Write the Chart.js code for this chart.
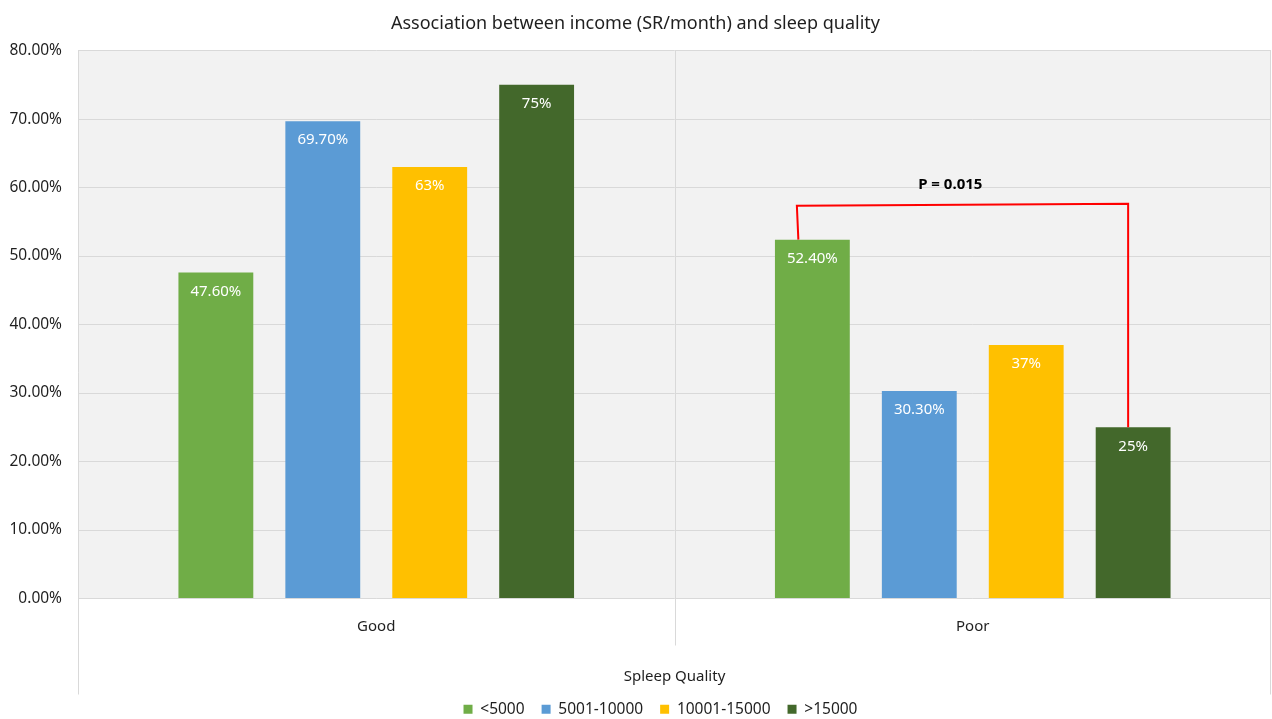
<!DOCTYPE html>
<html>
<head>
<meta charset="utf-8">
<script src="https://cdn.jsdelivr.net/npm/chart.js@4"></script>
<style>
  html, body { margin: 0; padding: 0; background: #ffffff; }
  #wrap { width: 1272px; height: 719px; position: relative; }
</style>
</head>
<body>
<div id="wrap"><canvas id="chart"></canvas></div>
<script>
// Sleep quality by monthly income group (percent of respondents)
const categories = ['Good', 'Poor'];
const seriesNames = ['<5000', '5001-10000', '10001-15000', '>15000'];
const under5000 = [47.6, 52.4];
const from5001to10000 = [69.7, 30.3];
const from10001to15000 = [63, 37];
const over15000 = [75, 25];
const yTickValues = [0, 10, 20, 30, 40, 50, 60, 70, 80];
const pValueText = 'P = 0.015';
const bracketLevel = 57.5;   // height of the significance bracket (%)

const seriesColors = ['#70ad47', '#5b9bd5', '#ffc000', '#43682b'];
const FONT = '"Noto Sans", "Open Sans", sans-serif';
const TEXT = '#1f1f1f';
const GRID = '#d9d9d9';

function pct(v) {
  return Number.isInteger(v) ? v + '%' : v.toFixed(2) + '%';
}

// light grey fill behind the plot area
const plotBackground = {
  id: 'plotBackground',
  beforeDraw(chart) {
    const { ctx, chartArea: a } = chart;
    ctx.save();
    ctx.fillStyle = '#f2f2f2';
    ctx.fillRect(a.left, a.top, a.right - a.left, a.bottom - a.top);
    ctx.restore();
  }
};

// vertical separators between categories, reaching into the axis area
const categoryDividers = {
  id: 'categoryDividers',
  beforeDatasetsDraw(chart) {
    const { ctx, chartArea: a, scales: { x } } = chart;
    const half = (x.getPixelForValue(1) - x.getPixelForValue(0)) / 2;
    const left = Math.round(x.getPixelForValue(0) - half) + 0.5;
    const mid = Math.round(x.getPixelForValue(0) + half) + 0.5;
    const right = Math.round(x.getPixelForValue(1) + half) - 0.5;
    ctx.save();
    ctx.strokeStyle = GRID;
    ctx.lineWidth = 1;
    ctx.beginPath();
    ctx.moveTo(left, a.top); ctx.lineTo(left, a.bottom + 96);
    ctx.moveTo(right, a.top); ctx.lineTo(right, a.bottom + 96);
    ctx.moveTo(mid, a.top); ctx.lineTo(mid, a.bottom + 47);
    ctx.stroke();
    ctx.restore();
  }
};

// value labels inside the top of each bar
const barValueLabels = {
  id: 'barValueLabels',
  afterDatasetsDraw(chart) {
    const { ctx } = chart;
    ctx.save();
    ctx.fillStyle = '#ffffff';
    ctx.font = '15px ' + FONT;
    ctx.textAlign = 'center';
    ctx.textBaseline = 'middle';
    chart.data.datasets.forEach((ds, i) => {
      chart.getDatasetMeta(i).data.forEach((bar, j) => {
        ctx.fillText(pct(ds.data[j]), bar.x, bar.y + 19);
      });
    });
    ctx.restore();
  }
};

// bracket joining the <5000 and >15000 bars of the "Poor" group
const significanceBracket = {
  id: 'significanceBracket',
  afterDatasetsDraw(chart) {
    const { ctx, scales: { y } } = chart;
    const a = chart.getDatasetMeta(0).data[1];
    const b = chart.getDatasetMeta(3).data[1];
    const top = y.getPixelForValue(bracketLevel);
    const x1 = a.x - 14;
    const x2 = b.x - 5;
    ctx.save();
    ctx.strokeStyle = '#ff0000';
    ctx.lineWidth = 2;
    ctx.beginPath();
    ctx.moveTo(x1, a.y);
    ctx.lineTo(x1 - 1.5, top + 1);
    ctx.lineTo(x2, top - 1);
    ctx.lineTo(x2, b.y);
    ctx.stroke();
    ctx.fillStyle = '#000000';
    ctx.font = 'bold 15px ' + FONT;
    ctx.textAlign = 'center';
    ctx.textBaseline = 'middle';
    ctx.fillText(pValueText, (x1 + x2) / 2 - 13, top - 20);
    ctx.restore();
  }
};

// nudge the legend row to the right, under the centre of the plot
const legendOffset = {
  id: 'legendOffset',
  afterLayout(chart) {
    const lg = chart.legend;
    if (lg) { lg.left += 25; lg.right += 25; }
  }
};

const seriesData = [under5000, from5001to10000, from10001to15000, over15000];

new Chart(document.getElementById('chart'), {
  type: 'bar',
  data: {
    labels: categories,
    datasets: seriesNames.map((name, i) => ({
      label: name,
      data: seriesData[i],
      backgroundColor: seriesColors[i],
      borderWidth: 0,
      categoryPercentage: 0.717,
      barPercentage: 0.70
    }))
  },
  options: {
    responsive: true,
    maintainAspectRatio: false,
    animation: false,
    layout: { padding: { left: 0, right: 1, top: 0, bottom: -8 } },
    plugins: {
      title: {
        display: true,
        text: 'Association between income (SR/month) and sleep quality',
        color: TEXT,
        font: { family: FONT, size: 18, weight: 'normal' },
        padding: { top: 13, bottom: 16 }
      },
      legend: {
        position: 'bottom',
        labels: {
          color: TEXT,
          font: { family: FONT, size: 15.5 },
          boxWidth: 9,
          boxHeight: 9,
          padding: 17
        }
      },
      tooltip: { enabled: false }
    },
    scales: {
      x: {
        grid: { display: false, drawTicks: false },
        border: { display: false },
        ticks: { color: TEXT, font: { family: FONT, size: 15 }, padding: 19 },
        title: {
          display: true,
          text: 'Spleep Quality',
          color: TEXT,
          font: { family: FONT, size: 15 },
          padding: { top: 0, bottom: -1 }
        },
        afterFit(scale) { scale.height = 86; }
      },
      y: {
        min: 0,
        max: 80,
        afterBuildTicks(scale) { scale.ticks = yTickValues.map(v => ({ value: v })); },
        grid: { color: GRID, drawTicks: false },
        border: { display: false },
        ticks: {
          color: TEXT,
          font: { family: FONT, size: 15.5 },
          padding: 16,
          callback: v => v.toFixed(2) + '%'
        },
        afterFit(scale) { scale.width = 78; }
      }
    }
  },
  plugins: [plotBackground, categoryDividers, barValueLabels, significanceBracket, legendOffset]
});
</script>
</body>
</html>
